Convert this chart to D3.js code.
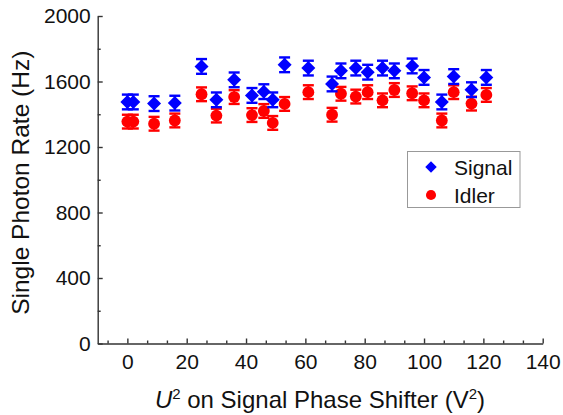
<!DOCTYPE html>
<html>
<head>
<meta charset="utf-8">
<script src="https://cdn.jsdelivr.net/npm/d3@7"></script>
<style>
  html, body { margin: 0; padding: 0; background: #fff; }
  text { font-family: "Liberation Sans", Arial, sans-serif; }
</style>
</head>
<body>
<svg id="chart" width="563" height="415"></svg>
<script>
// ---- data ----
const xValues = [0, 2, 9, 16, 25, 30, 36, 42, 46, 49, 53, 61, 69, 72, 77, 81, 86, 90, 96, 100, 106, 110, 116, 121];
const signalValues = [1475, 1475, 1465, 1468, 1692, 1488, 1610, 1515, 1538, 1488, 1702, 1682, 1585, 1665, 1682, 1657, 1682, 1665, 1695, 1625, 1475, 1630, 1550, 1625];
const idlerValues = [1355, 1355, 1342, 1362, 1522, 1392, 1505, 1395, 1420, 1347, 1463, 1535, 1397, 1525, 1508, 1535, 1485, 1548, 1528, 1485, 1362, 1535, 1465, 1518];
const signalErrors = [45, 45, 45, 45, 45, 45, 45, 45, 45, 45, 45, 45, 45, 45, 45, 45, 45, 45, 45, 45, 45, 45, 45, 45];
const idlerErrors = [42, 42, 42, 42, 42, 42, 42, 42, 42, 42, 42, 42, 42, 42, 42, 42, 42, 42, 42, 42, 42, 42, 42, 42];
const xTicks = [0, 20, 40, 60, 80, 100, 120, 140];
const xMinorTicks = [-6.667, 6.667, 13.333, 26.667, 33.333, 46.667, 53.333, 66.667, 73.333, 86.667, 93.333, 106.667, 113.333, 126.667, 133.333];
const yTicks = [0, 400, 800, 1200, 1600, 2000];
const yMinorTicks = [200, 600, 1000, 1400, 1800];
const seriesNames = ["Signal", "Idler"];
const seriesColors = ["#0000ff", "#ff0000"];

// ---- layout ----
const svg = d3.select("#chart");
const x = d3.scaleLinear().domain([-10, 140]).range([97.7, 542.7]);
const y = d3.scaleLinear().domain([0, 2000]).range([343.5, 16]);
const axisColor = "#333";

// y axis
svg.append("g").attr("transform", `translate(${x(-10)},0)`)
  .call(d3.axisLeft(y).tickValues(yTicks).tickFormat(d3.format("d")).tickSize(-5).tickSizeOuter(0).tickPadding(7));
svg.append("g").attr("transform", `translate(${x(-10)},0)`)
  .call(d3.axisLeft(y).tickValues(yMinorTicks).tickSize(-3).tickSizeOuter(0).tickFormat(""))
  .select(".domain").remove();

// x axis
svg.append("g").attr("transform", `translate(0,${y(0)})`)
  .call(d3.axisBottom(x).tickValues(xTicks).tickFormat(d3.format("d")).tickSize(-5).tickSizeOuter(0).tickPadding(11));
svg.append("g").attr("transform", `translate(0,${y(0)})`)
  .call(d3.axisBottom(x).tickValues(xMinorTicks).tickSize(-3).tickSizeOuter(0).tickFormat(""))
  .select(".domain").remove();

svg.selectAll(".domain, .tick line").attr("stroke", axisColor).attr("stroke-width", 1.4);
svg.selectAll(".tick text").attr("fill", "#111").style("font-size", "21px")
  .style("font-family", '"Liberation Sans", Arial, sans-serif');

// axis titles
svg.append("text")
  .attr("transform", `translate(29,${(y(0) + y(2000)) / 2 + 3}) rotate(-90)`)
  .attr("text-anchor", "middle").style("font-size", "24.5px").attr("fill", "#111")
  .text("Single Photon Rate (Hz)");

const xt = svg.append("text")
  .attr("x", 320).attr("y", 408).attr("text-anchor", "middle")
  .style("font-size", "24px").attr("fill", "#111");
xt.append("tspan").attr("font-style", "italic").text("U");
xt.append("tspan").attr("dy", -9).style("font-size", "15px").text("2");
xt.append("tspan").attr("dy", 9).text(" on Signal Phase Shifter (V");
xt.append("tspan").attr("dy", -9).style("font-size", "15px").text("2");
xt.append("tspan").attr("dy", 9).text(")");

// ---- series ----
function drawSeries(values, errors, color, symbolType, size) {
  const g = svg.append("g");
  const data = xValues.map((xv, i) => ({ x: xv, y: values[i], e: errors[i] }));
  const capW = 5.5;
  g.selectAll("line.v").data(data).join("line")
    .attr("x1", d => x(d.x)).attr("x2", d => x(d.x))
    .attr("y1", d => y(d.y - d.e)).attr("y2", d => y(d.y + d.e))
    .attr("stroke", color).attr("stroke-width", 2);
  g.selectAll("line.t").data(data).join("line")
    .attr("x1", d => x(d.x) - capW).attr("x2", d => x(d.x) + capW)
    .attr("y1", d => y(d.y + d.e)).attr("y2", d => y(d.y + d.e))
    .attr("stroke", color).attr("stroke-width", 2.4);
  g.selectAll("line.b").data(data).join("line")
    .attr("x1", d => x(d.x) - capW).attr("x2", d => x(d.x) + capW)
    .attr("y1", d => y(d.y - d.e)).attr("y2", d => y(d.y - d.e))
    .attr("stroke", color).attr("stroke-width", 2.4);
  g.selectAll("path").data(data).join("path")
    .attr("transform", d => `translate(${x(d.x)},${y(d.y)})`)
    .attr("d", d3.symbol().type(symbolType).size(size))
    .attr("fill", color);
}
drawSeries(idlerValues, idlerErrors, seriesColors[1], d3.symbolCircle, 110);
drawSeries(signalValues, signalErrors, seriesColors[0], d3.symbolDiamond2, 125);

// ---- legend ----
const lg = svg.append("g");
lg.append("rect").attr("x", 407.5).attr("y", 151.5).attr("width", 112.5).attr("height", 56)
  .attr("fill", "#fff").attr("stroke", "#999").attr("stroke-width", 1);
const legendSymbols = [d3.symbolDiamond2, d3.symbolCircle];
const legendSizes = [85, 80];
seriesNames.forEach((name, i) => {
  const cy = 167 + i * 28;
  lg.append("path").attr("transform", `translate(431,${cy})`)
    .attr("d", d3.symbol().type(legendSymbols[i]).size(legendSizes[i]))
    .attr("fill", seriesColors[i]);
  lg.append("text").attr("x", 454).attr("y", cy + 7.5)
    .style("font-size", "21px").attr("fill", "#111").text(name);
});
</script>
</body>
</html>
